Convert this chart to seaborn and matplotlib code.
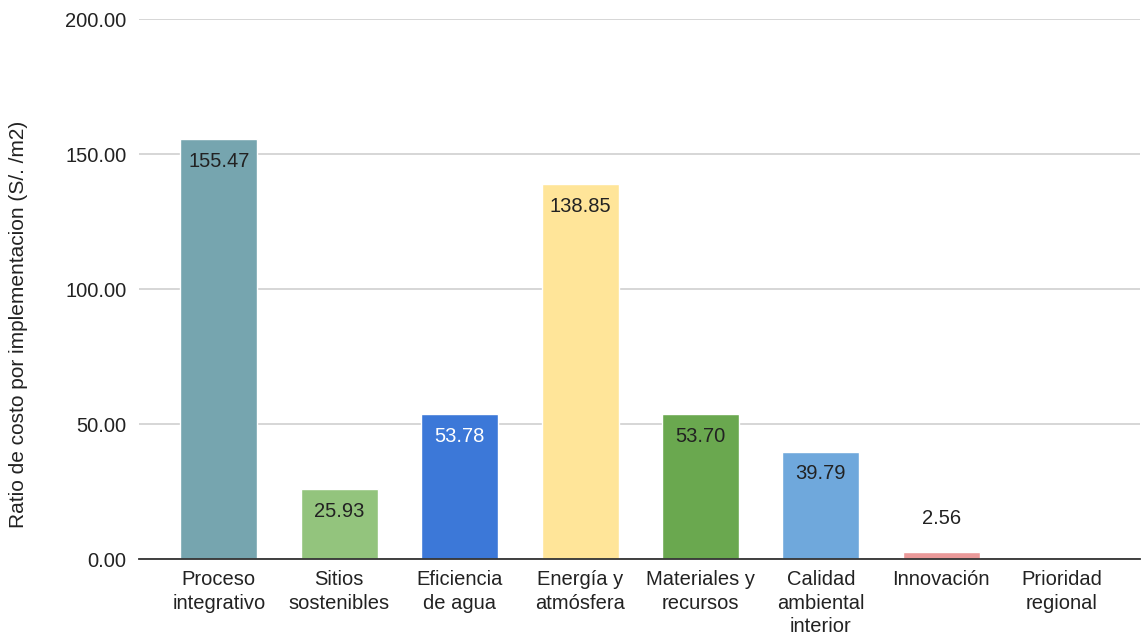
import matplotlib
matplotlib.use("Agg")
import matplotlib.pyplot as plt
import seaborn as sns
import pandas as pd

categorias = ["Proceso\nintegrativo", "Sitios\nsostenibles", "Eficiencia\nde agua",
              "Energía y\natmósfera", "Materiales y\nrecursos", "Calidad\nambiental\ninterior",
              "Innovación", "Prioridad\nregional"]
valores = [155.47, 25.93, 53.78, 138.85, 53.70, 39.79, 2.56, 0.0]
colores = ["#76a5af", "#93c47d", "#3c78d8", "#ffe599", "#6aa84f", "#6fa8dc", "#ea9999", "#cccccc"]
colores_texto = ["#222222", "#222222", "#ffffff", "#222222", "#222222", "#222222", "#222222", "#222222"]
yticks = [0, 50, 100, 150, 200]

sns.set_theme(style="white")
plt.rcParams["font.family"] = ["Liberation Sans", "DejaVu Sans"]

df = pd.DataFrame({"categoria": categorias, "valor": valores})

fig = plt.figure(figsize=(11.48, 6.42), dpi=100)
ax = fig.add_axes([0.121, 0.129, 0.872, 0.841])

sns.barplot(data=df, x="categoria", y="valor", hue="categoria", palette=colores,
            legend=False, width=0.64, ax=ax, saturation=1)

ax.set_ylim(0, 200)
ax.set_xlim(-0.664, 7.65)
ax.set_yticks(yticks)
ax.set_yticklabels([f"{v:.2f}" for v in yticks], fontsize=14.5, color="#222222")
ax.tick_params(axis="x", labelsize=14.5, labelcolor="#222222", length=0, pad=8)
for lbl in ax.get_xticklabels():
    lbl.set_linespacing(1.3)
ax.tick_params(axis="y", length=0, pad=9)
ax.yaxis.grid(True, color="#d0d0d0", linewidth=1.2)
ax.set_axisbelow(True)
for s in ["top", "right", "left"]:
    ax.spines[s].set_visible(False)
ax.spines["bottom"].set_color("#333333")
ax.spines["bottom"].set_linewidth(1.3)
ax.set_xlabel("")
ax.set_ylabel("Ratio de costo por implementacion (S/. /m2)", fontsize=15,
              color="#222222")
ax.yaxis.set_label_coords(-0.111, 0.435)

for i, (v, c) in enumerate(zip(valores, colores_texto)):
    if v <= 0:
        continue
    if v > 10:
        ax.annotate(f"{v:.2f}", (i, v), xytext=(0, -16), textcoords="offset points",
                    ha="center", va="center", fontsize=14.5, color=c)
    else:
        ax.annotate(f"{v:.2f}", (i, v), xytext=(0, 24), textcoords="offset points",
                    ha="center", va="center", fontsize=14.5, color=c)

fig.savefig("out.png", dpi=100)
